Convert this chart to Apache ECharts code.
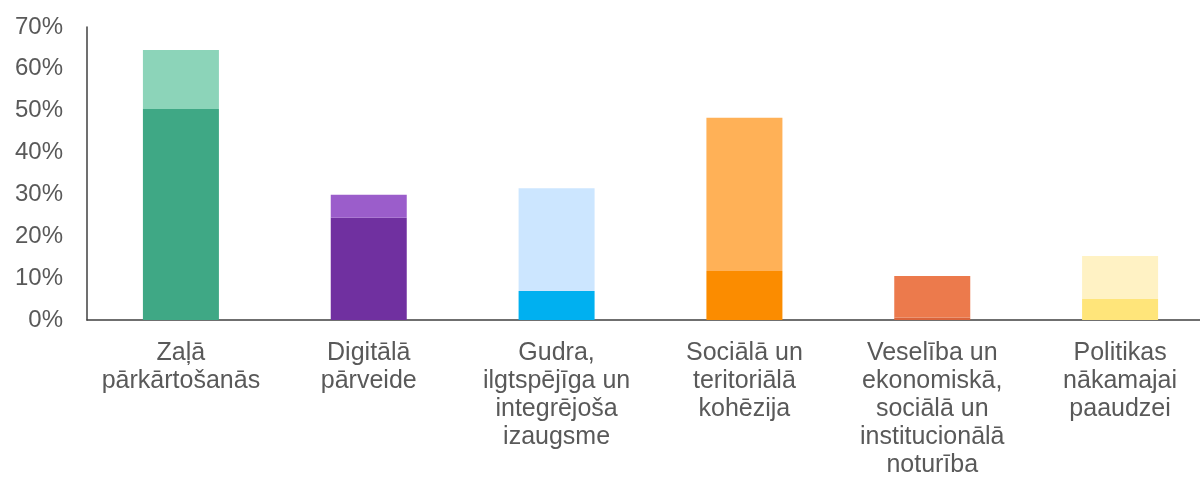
<!DOCTYPE html>
<html>
<head>
<meta charset="utf-8">
<script src="https://cdn.jsdelivr.net/npm/echarts@6/dist/echarts.min.js"></script>
<style>
html,body{margin:0;padding:0;background:#fff;}
#c{width:1200px;height:477px;}
</style>
</head>
<body>
<div id="c"></div>
<script>
var categories = [
  "Zaļā\npārkārtošanās",
  "Digitālā\npārveide",
  "Gudra,\nilgtspējīga un\nintegrējoša\nizaugsme",
  "Sociālā un\nteritoriālā\nkohēzija",
  "Veselība un\nekonomiskā,\nsociālā un\ninstitucionālā\nnoturība",
  "Politikas\nnākamajai\npaaudzei"
];
var baseValues = [50.4, 24.4, 6.9, 11.7, 0.6, 5.0];
var topValues = [14.1, 5.5, 24.6, 36.6, 9.9, 10.3];
var yTicks = [0, 10, 20, 30, 40, 50, 60, 70];

var baseColors = ["#3FA885", "#7030A0", "#00B0F0", "#FB8C00", "#D9643B", "#FFE57A"];
var topColors = ["#8CD4B9", "#9B5DCB", "#CCE6FF", "#FFB157", "#EC7A4C", "#FFF2C4"];

var chart = echarts.init(document.getElementById('c'));
chart.setOption({
  animation: false,
  grid: { left: 87, top: 27, right: -14, bottom: 157, containLabel: false, outerBoundsMode: 'none' },
  xAxis: {
    type: 'category',
    data: categories,
    axisLine: { lineStyle: { color: '#404040', width: 1.5 } },
    axisTick: { show: false },
    axisLabel: {
      color: '#595959', fontFamily: 'Liberation Sans, Arial, sans-serif',
      fontSize: 25, lineHeight: 28, margin: 19, interval: 0
    }
  },
  yAxis: {
    type: 'value',
    min: yTicks[0], max: yTicks[yTicks.length - 1], interval: 10,
    axisLine: { show: true, lineStyle: { color: '#404040', width: 1.5 } },
    axisTick: { show: false },
    splitLine: { show: false },
    axisLabel: {
      color: '#595959', fontFamily: 'Liberation Sans, Arial, sans-serif',
      fontSize: 24, margin: 24, formatter: '{value}%'
    }
  },
  series: [
    {
      type: 'bar', stack: 's', barWidth: 76,
      data: baseValues.map(function (v, i) { return { value: v, itemStyle: { color: baseColors[i] } }; })
    },
    {
      type: 'bar', stack: 's', barWidth: 76,
      data: topValues.map(function (v, i) { return { value: v, itemStyle: { color: topColors[i] } }; })
    }
  ]
});
</script>
</body>
</html>
